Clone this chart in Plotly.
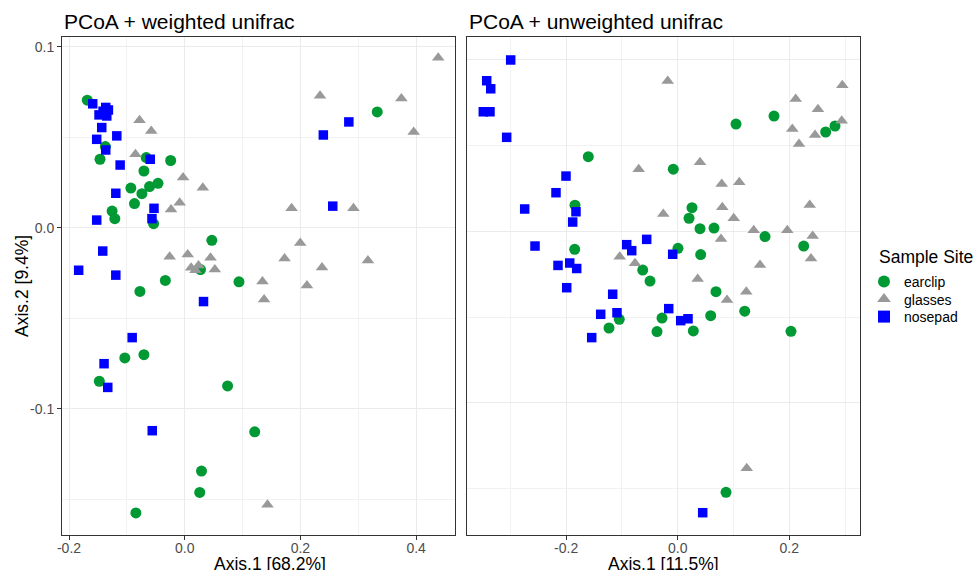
import plotly.graph_objects as go

# ---------------- data ----------------
sites = ["earclip", "glasses", "nosepad"]
site_colors = {"earclip": "#009933", "glasses": "#999999", "nosepad": "#0000FF"}
site_symbols = {"earclip": "circle", "glasses": "triangle-up", "nosepad": "square"}
site_sizes = {"earclip": 11, "glasses": 11, "nosepad": 9.5}

# weighted unifrac (left panel)
w_earclip_x = [-0.1684, 0.3328, -0.1372, -0.1464, -0.0665, -0.0243, -0.0705, -0.0931, -0.0608, -0.0462,
               -0.0740, -0.0868, -0.1255, -0.1208, -0.0538, 0.0469, 0.0273, -0.0335, 0.0938, -0.0774,
               -0.1035, -0.0705, -0.1476, 0.0741, 0.1210, 0.0290, 0.0260, -0.0844]
w_earclip_y = [0.0704, 0.0639, 0.0448, 0.0378, 0.0387, 0.0371, 0.0313, 0.0219, 0.0227, 0.0245,
               0.0188, 0.0133, 0.0092, 0.0050, 0.0022, -0.0070, -0.0231, -0.0291, -0.0299, -0.0352,
               -0.0719, -0.0701, -0.0848, -0.0874, -0.1127, -0.1344, -0.1462, -0.1575]
w_glasses_x = [-0.0781, -0.0578, 0.2339, 0.3745, 0.3958, 0.4382, -0.0851, -0.0028, 0.0313, -0.0087,
               -0.0236, 0.1847, 0.2917, 0.1997, -0.0260, 0.0052, 0.0446, 0.1726, 0.3167, 0.0111,
               0.0186, 0.0521, 0.2373, 0.1344, 0.2113, 0.1372, 0.1431, 0.0238]
w_glasses_y = [0.0593, 0.0534, 0.0728, 0.0713, 0.0529, 0.0938, 0.0405, 0.0277, 0.0221, 0.0138,
               0.0101, 0.0108, 0.0108, -0.0085, -0.0160, -0.0148, -0.0166, -0.0170, -0.0181, -0.0221,
               -0.0235, -0.0231, -0.0220, -0.0297, -0.0319, -0.0397, -0.1530, -0.0209]
w_nosepad_x = [-0.1590, -0.1365, -0.1319, -0.1481, -0.1347, -0.1411, -0.1434, -0.1174, -0.1521, -0.1365,
               -0.0595, -0.1116, -0.1191, -0.0531, -0.1521, -0.0566, 0.2837, 0.2396, 0.2559, -0.1417,
               -0.1833, -0.1191, 0.0325, -0.0908, -0.1394, -0.1330, -0.0561, -0.1359]
w_nosepad_y = [0.0684, 0.0664, 0.0650, 0.0623, 0.0617, 0.0643, 0.0553, 0.0507, 0.0488, 0.0429,
               0.0378, 0.0346, 0.0190, 0.0107, 0.0042, 0.0050, 0.0584, 0.0512, 0.0119, -0.0129,
               -0.0235, -0.0262, -0.0408, -0.0607, -0.0751, -0.0882, -0.1121, 0.0637]

# unweighted unifrac (right panel)
u_earclip_x = [0.1726, 0.1045, 0.2819, 0.2652, -0.1602, -0.0079, -0.1841, 0.0256, 0.0203, 0.0400,
               0.0651, 0.1565, 0.2258, -0.1846, 0.0005, 0.0412, -0.0627, -0.0496, 0.0686, -0.1047,
               -0.1231, -0.0281, 0.0591, 0.1201, -0.0371, 0.0280, 0.2030, 0.0866]
u_earclip_y = [0.0672, 0.0625, 0.0614, 0.0579, 0.0435, 0.0362, 0.0152, 0.0138, 0.0076, 0.0015,
               0.0019, -0.0031, -0.0086, -0.0105, -0.0099, -0.0136, -0.0226, -0.0290, -0.0352, -0.0513,
               -0.0564, -0.0506, -0.0492, -0.0466, -0.0585, -0.0581, -0.0583, -0.1522]
u_glasses_x = [-0.0179, 0.2950, 0.2115, 0.2514, 0.2054, 0.2939, 0.2461, 0.2174, -0.0699, 0.0400,
               0.0789, 0.1104, 0.0799, -0.0258, 0.1004, 0.2366, 0.1362, 0.1964, 0.2419, 0.0776,
               -0.1039, 0.2389, -0.0765, 0.1475, 0.0358, 0.1229, 0.0884, 0.1237]
u_glasses_y = [0.0876, 0.0851, 0.0771, 0.0711, 0.0597, 0.0645, 0.0562, 0.0509, 0.0362, 0.0402,
               0.0276, 0.0286, 0.0140, 0.0101, 0.0076, 0.0153, 0.0006, 0.0006, -0.0027, -0.0045,
               -0.0148, -0.0159, -0.0187, -0.0197, -0.0278, -0.0352, -0.0401, -0.1382]
u_nosepad_x = [-0.2993, -0.3423, -0.3351, -0.3484, -0.3364, -0.3065, -0.2002, -0.2181, -0.2742, -0.1823,
               -0.1882, -0.2557, -0.0914, -0.0824, -0.0556, -0.0090, -0.2145, -0.1935, -0.1810, -0.1989,
               -0.1165, -0.1380, -0.1088, -0.0161, 0.0054, 0.0185, -0.1541, 0.0448]
u_nosepad_y = [0.0999, 0.0878, 0.0831, 0.0697, 0.0697, 0.0548, 0.0322, 0.0225, 0.0130, 0.0114,
               0.0054, -0.0086, -0.0078, -0.0113, -0.0047, -0.0134, -0.0199, -0.0185, -0.0217, -0.0329,
               -0.0367, -0.0484, -0.0475, -0.0451, -0.0521, -0.0510, -0.0620, -0.1641]

left_x_ticks = [-0.2, 0.0, 0.2, 0.4]
left_x_ticktext = ["-0.2", "0.0", "0.2", "0.4"]
left_x_minor = [-0.1, 0.1, 0.3]
left_y_ticks = [-0.1, 0.0, 0.1]
left_y_ticktext = ["-0.1", "0.0", "0.1"]
left_y_minor = [-0.15, -0.05, 0.05]
right_x_ticks = [-0.2, 0.0, 0.2]
right_x_ticktext = ["-0.2", "0.0", "0.2"]
right_x_minor = [-0.3, -0.1, 0.1, 0.3]
right_y_ticks = [-0.1, 0.0, 0.1]
right_y_minor = [-0.15, -0.05, 0.05]

title_left = "PCoA + weighted unifrac"
title_right = "PCoA + unweighted unifrac"
xlab_left = "Axis.1 [68.2%]"
xlab_right = "Axis.1 [11.5%]"
ylab_left = "Axis.2 [9.4%]"
legend_title = "Sample Site"

# ---------------- figure ----------------
W, H = 974, 570
FONT = "Liberation Sans, Arial, Helvetica, sans-serif"

def px(v):
    return v / W

def py(v):
    return 1 - v / H

left_data = {"earclip": (w_earclip_x, w_earclip_y), "glasses": (w_glasses_x, w_glasses_y),
             "nosepad": (w_nosepad_x, w_nosepad_y)}
right_data = {"earclip": (u_earclip_x, u_earclip_y), "glasses": (u_glasses_x, u_glasses_y),
              "nosepad": (u_nosepad_x, u_nosepad_y)}
legend_ids = {"earclip": "legend", "glasses": "legend2", "nosepad": "legend3"}
legend_rows = {"earclip": 282, "glasses": 299.5, "nosepad": 317}

fig = go.Figure()
for s in sites:
    x, y = left_data[s]
    fig.add_trace(go.Scatter(x=x, y=y, mode="markers", name=s, legendgroup=s, showlegend=True,
                             legend=legend_ids[s], xaxis="x", yaxis="y",
                             marker=dict(color=site_colors[s], symbol=site_symbols[s], size=site_sizes[s],
                                         line=dict(width=0))))
for s in sites:
    x, y = right_data[s]
    fig.add_trace(go.Scatter(x=x, y=y, mode="markers", name=s, legendgroup=s, showlegend=False,
                             xaxis="x2", yaxis="y2",
                             marker=dict(color=site_colors[s], symbol=site_symbols[s], size=site_sizes[s],
                                         line=dict(width=0))))

axis_common = dict(showline=True, mirror=True, linecolor="#333333", linewidth=1,
                   showgrid=True, gridcolor="#EBEBEB", gridwidth=1.1, zeroline=False,
                   automargin=False,
                   ticklen=4, tickcolor="#333333", tickwidth=1,
                   tickfont=dict(family=FONT, size=14, color="#4D4D4D"))

def minor(vals):
    return dict(tickmode="array", tickvals=vals, showgrid=True,
                gridcolor="#F2F2F2", gridwidth=1, ticks="")

pan_top, pan_bot = 37, 535
layout = dict(
    width=W, height=H,
    margin=dict(l=0, r=0, t=0, b=0, autoexpand=False),
    paper_bgcolor="white", plot_bgcolor="white",
    font=dict(family=FONT, color="black"),
    xaxis=dict(domain=[px(62), px(455)], range=[-0.2121, 0.4672], anchor="y", ticks="outside",
               tickmode="array", tickvals=left_x_ticks, ticktext=left_x_ticktext,
               ticklabelstandoff=-4, minor=minor(left_x_minor), **axis_common),
    yaxis=dict(domain=[py(pan_bot), py(pan_top)], range=[-0.1697, 0.1053], anchor="x", ticks="outside",
               tickmode="array", tickvals=left_y_ticks, ticktext=left_y_ticktext,
               minor=minor(left_y_minor), **axis_common),
    xaxis2=dict(domain=[px(467), px(860)], range=[-0.3776, 0.3267], anchor="y2", ticks="outside",
                tickmode="array", tickvals=right_x_ticks, ticktext=right_x_ticktext,
                ticklabelstandoff=-4, minor=minor(right_x_minor), **axis_common),
    yaxis2=dict(domain=[py(pan_bot), py(pan_top)], range=[-0.1771, 0.1133], anchor="x2", ticks="",
                tickmode="array", tickvals=right_y_ticks, showticklabels=False,
                minor=minor(right_y_minor), **axis_common),
    showlegend=True,
)
for s in sites:
    layout[legend_ids[s]] = dict(x=px(864), y=py(legend_rows[s]), xanchor="left", yanchor="middle",
                                 font=dict(family=FONT, size=14, color="black"),
                                 bgcolor="rgba(0,0,0,0)", itemsizing="constant")
fig.update_layout(**layout)

annotations = [
    dict(text=title_left, x=px(62), y=py(21), xanchor="left", yanchor="middle",
         font=dict(size=21)),
    dict(text=title_right, x=px(467), y=py(21), xanchor="left", yanchor="middle",
         font=dict(size=21)),
    dict(text=xlab_left, x=px(270), y=py(564), xanchor="center", yanchor="middle",
         font=dict(size=17.5)),
    dict(text=xlab_right, x=px(663.5), y=py(564), xanchor="center", yanchor="middle",
         font=dict(size=17.5)),
    dict(text=ylab_left, x=px(22), y=py(286), xanchor="center", yanchor="middle",
         textangle=-90, font=dict(size=17.5)),
    dict(text=legend_title, x=px(877), y=py(257), xanchor="left", yanchor="middle",
         font=dict(size=17.5)),
]
for a in annotations:
    a.update(xref="paper", yref="paper", showarrow=False)
    a["font"] = dict(family=FONT, color="black", **a["font"])
fig.update_layout(annotations=annotations)

fig.write_html("out.html", config={"displayModeBar": False},
               post_script="document.body.style.margin='0';document.body.style.overflow='hidden';")
